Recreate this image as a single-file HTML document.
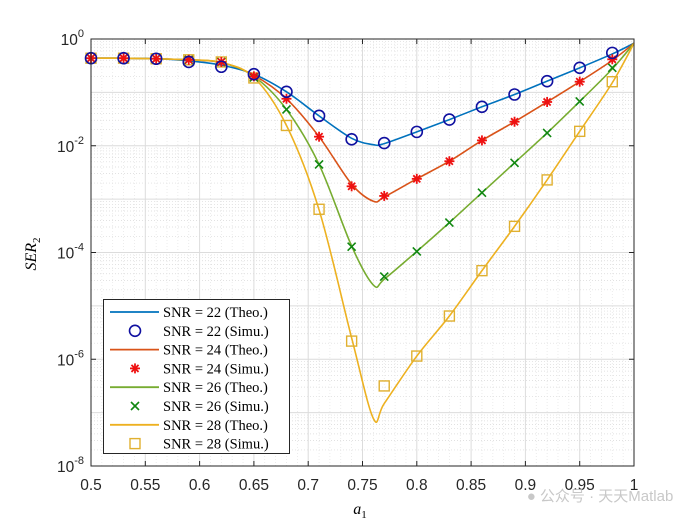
<!DOCTYPE html>
<html><head><meta charset="utf-8"><style>
body{margin:0;background:#fff;}
svg{display:block;font-family:"Liberation Sans",sans-serif;}
.tk{font-size:15.5px;fill:#262626;}
.lg{font-family:"Liberation Serif",serif;font-size:14.5px;fill:#000;}
</style></head><body>
<svg id="chart" width="700" height="525" viewBox="0 0 700 525">
<rect width="700" height="525" fill="#fff"/>
<g id="grid"></g>
<g id="series"></g>
<g id="axes"></g>
<text x="360" y="514" font-family="Liberation Serif,serif" font-style="italic" font-size="16" text-anchor="middle">a<tspan font-size="11" dy="4" font-style="normal">1</tspan></text>
<text transform="translate(36,254) rotate(-90)" font-family="Liberation Serif,serif" font-style="italic" font-size="16" text-anchor="middle">SER<tspan font-size="11" dy="4" font-style="normal">2</tspan></text>
<g id="legend"></g>
<text x="600" y="501" font-family="Liberation Sans,'Noto Sans CJK SC',sans-serif" font-size="15" fill="#bbb" text-anchor="middle" opacity="0.8">● 公众号 · 天天Matlab</text>
</svg>
<script>
const simX=[0.5,0.53,0.56,0.59,0.62,0.65,0.68,0.71,0.74,0.77,0.80,0.83,0.86,0.89,0.92,0.95,0.98];
const sim22=[-0.36,-0.36,-0.37,-0.43,-0.52,-0.66,-0.99,-1.44,-1.88,-1.95,-1.74,-1.51,-1.27,-1.04,-0.79,-0.54,-0.26];
const sim24=[-0.36,-0.36,-0.37,-0.39,-0.43,-0.70,-1.12,-1.83,-2.76,-2.94,-2.62,-2.29,-1.90,-1.55,-1.18,-0.80,-0.38];
const sim26=[-0.36,-0.36,-0.37,-0.39,-0.43,-0.72,-1.32,-2.35,-3.89,-4.45,-3.98,-3.44,-2.88,-2.32,-1.76,-1.17,-0.54];
const sim28=[-0.36,-0.36,-0.37,-0.39,-0.43,-0.73,-1.62,-3.19,-5.66,-6.50,-5.94,-5.19,-4.34,-3.51,-2.64,-1.73,-0.80];
const theoX=[0.5,0.53,0.56,0.59,0.62,0.65,0.68,0.71,0.74,0.76,0.77,0.80,0.83,0.86,0.89,0.92,0.95,0.98,1.0];
const theo22=[-0.36,-0.36,-0.37,-0.41,-0.49,-0.66,-0.99,-1.44,-1.86,-1.98,-1.96,-1.74,-1.51,-1.27,-1.04,-0.79,-0.54,-0.28,-0.08];
const theo24=[-0.36,-0.36,-0.37,-0.39,-0.44,-0.68,-1.12,-1.83,-2.72,-3.04,-2.96,-2.62,-2.29,-1.90,-1.55,-1.18,-0.80,-0.40,-0.08];
const theo26=[-0.36,-0.36,-0.37,-0.39,-0.44,-0.70,-1.32,-2.35,-3.88,-4.61,-4.50,-3.98,-3.44,-2.88,-2.32,-1.76,-1.17,-0.56,-0.08];
const theo28=[-0.36,-0.36,-0.37,-0.39,-0.44,-0.72,-1.62,-3.20,-5.60,-7.11,-6.83,-5.94,-5.19,-4.34,-3.51,-2.64,-1.73,-0.82,-0.08];
const xTicks=["0.5","0.55","0.6","0.65","0.7","0.75","0.8","0.85","0.9","0.95","1"];
const yTicks=[0,-2,-4,-6,-8];
const legendLabels=["SNR = 22 (Theo.)","SNR = 22 (Simu.)","SNR = 24 (Theo.)","SNR = 24 (Simu.)","SNR = 26 (Theo.)","SNR = 26 (Simu.)","SNR = 28 (Theo.)","SNR = 28 (Simu.)"];

const L=91,R=634,T=39,B=466;
const xs=v=>L+(v-0.5)/0.5*(R-L);
const ys=lg=>T+(0-lg)/8*(B-T);
const NS="http://www.w3.org/2000/svg";
function mk(tag,attrs,parent){const e=document.createElementNS(NS,tag);for(const k in attrs)e.setAttribute(k,attrs[k]);parent.appendChild(e);return e;}
const grid=document.getElementById('grid'),axes=document.getElementById('axes'),ser=document.getElementById('series'),leg=document.getElementById('legend');
for(let d=0;d<8;d++){for(let m=2;m<=9;m++){const y=ys(-d-1+Math.log10(m));
const l=mk('line',{x1:L,x2:R,y1:y,y2:y,stroke:'#d8d8d8','stroke-width':0.7,'stroke-dasharray':'1,2'},grid);

}}
for(let i=0;i<50;i++){const v=0.5+i*0.01;if(i%5===0)continue;const x=xs(v);
const l=mk('line',{x1:x,x2:x,y1:T,y2:B,stroke:'#e4e4e4','stroke-width':0.7,'stroke-dasharray':'1,2'},grid);

}
for(let d=0;d<=8;d++){const y=ys(-d);
const l=mk('line',{x1:L,x2:R,y1:y,y2:y,stroke:'#dcdcdc','stroke-width':1},grid);

}
xTicks.forEach(t=>{const x=xs(parseFloat(t));
const l=mk('line',{x1:x,x2:x,y1:T,y2:B,stroke:'#dcdcdc','stroke-width':1},grid);


mk('line',{x1:x,x2:x,y1:B,y2:B-5,stroke:'#262626'},axes);mk('line',{x1:x,x2:x,y1:T,y2:T+5,stroke:'#262626'},axes);
const tx=mk('text',{x:x,y:B+24,'text-anchor':'middle',class:'tk'},axes);tx.textContent=t;

});
yTicks.forEach(t=>{const y=ys(t);
mk('line',{x1:L,x2:L+5,y1:y,y2:y,stroke:'#262626'},axes);mk('line',{x1:R,x2:R-5,y1:y,y2:y,stroke:'#262626'},axes);
const tx=mk('text',{x:L-7,y:y+6,'text-anchor':'end',class:'tk'},axes);
tx.innerHTML='10<tspan dy="-8" font-size="11">'+t+'</tspan>';

});
mk('rect',{x:L,y:T,width:R-L,height:B-T,fill:'none',stroke:'#262626','stroke-width':1},axes);

function smoothPath(xa,ya){const p=xa.map((x,i)=>[xs(x),ys(ya[i])]);let d='M'+p[0][0]+','+p[0][1];
for(let i=0;i<p.length-1;i++){const p0=p[Math.max(0,i-1)],p1=p[i],p2=p[i+1],p3=p[Math.min(p.length-1,i+2)];
const c1=[p1[0]+(p2[0]-p0[0])/6,p1[1]+(p2[1]-p0[1])/6],c2=[p2[0]-(p3[0]-p1[0])/6,p2[1]-(p3[1]-p1[1])/6];
d+=' C'+c1+' '+c2+' '+p2;}return d;}
const colors=['#0072BD','#D95319','#77AC30','#EDB120'];
const mcol=['#1010a0','#ee1111','#118811','#E0B030'];
const theos=[theo22,theo24,theo26,theo28],sims=[sim22,sim24,sim26,sim28],names=['22','24','26','28'];
function marker(k,x,y,g){
 if(k===0){mk('circle',{cx:x,cy:y,r:5.5,fill:'none',stroke:mcol[0],'stroke-width':1.6},g);}
 else if(k===1){for(let a=0;a<4;a++){const an=a*Math.PI/4;mk('line',{x1:x-5*Math.cos(an),y1:y-5*Math.sin(an),x2:x+5*Math.cos(an),y2:y+5*Math.sin(an),stroke:mcol[1],'stroke-width':1.8},g);}}
 else if(k===2){mk('path',{d:`M${x-4},${y-4}L${x+4},${y+4}M${x-4},${y+4}L${x+4},${y-4}`,stroke:mcol[2],'stroke-width':1.6},g);}
 else {mk('rect',{x:x-5,y:y-5,width:10,height:10,fill:'none',stroke:mcol[3],'stroke-width':1.4},g);}
}
for(let k=0;k<4;k++){
 const p=mk('path',{d:smoothPath(theoX,theos[k]),fill:'none',stroke:colors[k],'stroke-width':1.6},ser);
 
 
}
for(let k=3;k>=0;k--){
 const g=mk('g',{},ser);
 
 
 simX.forEach((x,i)=>marker(k,xs(x),ys(sims[k][i]),g));
}
const bg=mk('rect',{x:103.5,y:299.5,width:186,height:154,fill:'#fff',stroke:'#262626','stroke-width':1},leg);


legendLabels.forEach((lab,i)=>{const y=312+i*18.8;const k=Math.floor(i/2);
 const g=mk('g',{},leg);
 
 
 if(i%2===0)mk('line',{x1:110,x2:159,y1:y,y2:y,stroke:colors[k],'stroke-width':1.8},g);
 else marker(k,135,y,g);
 const t=mk('text',{x:163,y:y+5,class:'lg'},g);t.textContent=lab;});
</script>
</body></html>
